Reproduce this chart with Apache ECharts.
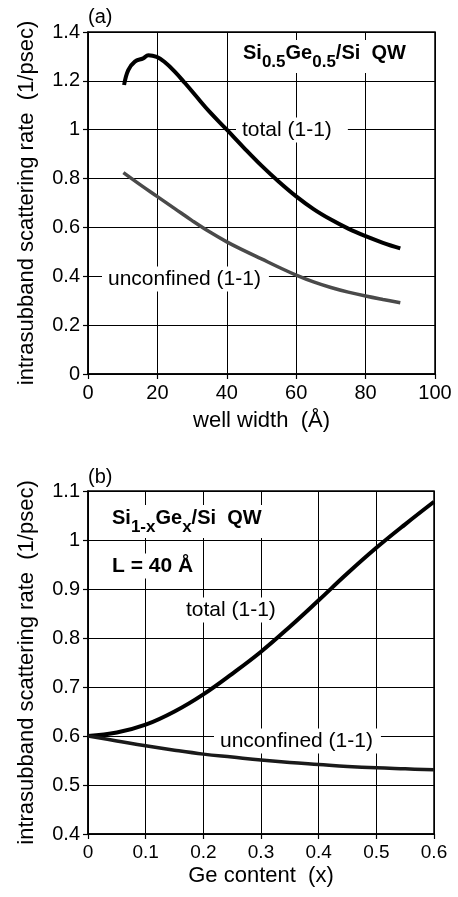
<!DOCTYPE html>
<html>
<head>
<meta charset="utf-8">
<script src="https://cdn.jsdelivr.net/npm/echarts@6/dist/echarts.min.js"></script>
<style>
html,body{margin:0;padding:0;background:#fff;}
#chart{width:458px;height:897px;}
</style>
</head>
<body>
<div id="chart"></div>
<script>
// ---- Panel (a): rate vs well width (Å), Si0.5Ge0.5/Si QW ----
var totalA_x = [10.4, 11.6, 13.5, 15.9, 17.4, 19.8, 22, 25, 28, 31, 35, 40, 45, 50, 55, 60, 65, 70, 75, 80, 85, 90];
var totalA_y = [1.183, 1.244, 1.279, 1.292, 1.305, 1.298, 1.278, 1.238, 1.19, 1.14, 1.074, 1.0, 0.925, 0.853, 0.787, 0.727, 0.675, 0.632, 0.595, 0.564, 0.537, 0.514];
var unconfA_x = [10.2, 15, 20, 25, 30, 35, 40, 45, 50, 55, 60, 65, 70, 75, 80, 85, 90];
var unconfA_y = [0.824, 0.775, 0.726, 0.677, 0.628, 0.582, 0.541, 0.505, 0.471, 0.437, 0.405, 0.377, 0.354, 0.335, 0.319, 0.305, 0.292];

// ---- Panel (b): rate vs Ge content (x), L = 40 Å ----
var geX       = [0, 0.05, 0.1, 0.15, 0.2, 0.25, 0.3, 0.35, 0.4, 0.45, 0.5, 0.55, 0.6];
var totalB_y  = [0.600, 0.607, 0.623, 0.650, 0.685, 0.727, 0.772, 0.823, 0.877, 0.932, 0.984, 1.032, 1.078];
var unconfB_y = [0.600, 0.590, 0.580, 0.571, 0.563, 0.557, 0.551, 0.546, 0.542, 0.538, 0.535, 0.533, 0.531];

// axis ranges [min, max, interval]
var xRangeA = [0, 100, 20];
var yRangeA = [0, 1.4, 0.2];
var xRangeB = [0, 0.6, 0.1];
var yRangeB = [0.4, 1.1, 0.1];

var yName = 'intrasubband scattering rate  (1/psec)';
var xNameA = 'well width  (Å)';
var xNameB = 'Ge content  (x)';

function pairs(xs, ys){ return xs.map(function(x,i){ return [x, ys[i]]; }); }

var FF = "'Liberation Sans', Arial, Helvetica, sans-serif";

function xAxis(idx, r, name, gap, fs){
  return {
    type:'value', gridIndex: idx, min:r[0], max:r[1], interval:r[2],
    name: name, nameLocation:'middle', nameGap: gap,
    nameTextStyle:{fontFamily:FF, fontSize:22, color:'#000'},
    axisLine:{show:true, lineStyle:{color:'#000', width:1.5}},
    axisTick:{show:true, inside:false, length:5, lineStyle:{color:'#000', width:1.2}},
    axisLabel:{fontFamily:FF, fontSize:fs, color:'#000', margin:9},
    splitLine:{show:true, lineStyle:{color:'#000', width:1}}
  };
}
function yAxis(idx, r){
  return {
    type:'value', gridIndex: idx, min:r[0], max:r[1], interval:r[2],
    name: yName, nameLocation:'middle', nameGap: 50, nameRotate: 90,
    nameTextStyle:{fontFamily:FF, fontSize:22, color:'#000'},
    axisLine:{show:true, lineStyle:{color:'#000', width:1.5}},
    axisTick:{show:true, inside:false, length:5, lineStyle:{color:'#000', width:1.2}},
    axisLabel:{fontFamily:FF, fontSize:20, color:'#000', margin:8},
    splitLine:{show:true, lineStyle:{color:'#000', width:1}}
  };
}

function label(text, x, y, extra){
  var st = {
    text: text,
    font: '21px ' + FF, fill:'#000',
    align:'left', verticalAlign:'middle',
    textAlign:'left', textVerticalAlign:'middle',
    backgroundColor:'#fff', padding:[2,6,2,6]
  };
  if (extra) for (var k in extra) st[k] = extra[k];
  return {type:'text', x:x, y:y, z:1, style: st};
}

// formula text with subscripts, built from measured pieces
var measureCtx = document.createElement('canvas').getContext('2d');
function formula(parts, x, y){
  var mainFont = 'bold 20px ' + FF, subFont = 'bold 17px ' + FF;
  var els = [], cx = x;
  parts.forEach(function(p){
    var f = p[1] ? subFont : mainFont;
    measureCtx.font = f;
    var w = measureCtx.measureText(p[0]).width;
    els.push({type:'text', x:cx, y: y + (p[1] ? 9 : 0), z:2,
      style:{text:p[0], font:f, fill:'#000', align:'left', verticalAlign:'middle', textAlign:'left', textVerticalAlign:'middle'}});
    cx += w;
  });
  els.unshift({type:'rect', z:1, shape:{x:x-6, y:y-13, width:cx-x+12, height:33}, style:{fill:'#fff'}});
  return els;
}

var graphics = [
  label('(a)', 88, 17, {backgroundColor:'transparent', padding:0, font:'20px ' + FF}),
  label('(b)', 88, 477, {backgroundColor:'transparent', padding:0, font:'20px ' + FF}),
  label('total (1-1)', 236, 130, {padding:[2,16,2,6]}),
  label('unconfined (1-1)', 102, 279, {padding:[2,8,2,6]}),
  label('L = 40 Å', 106, 566, {font:'bold 21px ' + FF, padding:[2,6,2,6]}),
  label('total (1-1)', 180, 610, {padding:[2,6,2,6]}),
  label('unconfined (1-1)', 214, 741, {padding:[2,8,2,6]})
].concat(
  formula([['Si',0],['0.5',1],['Ge',0],['0.5',1],['/Si  QW',0]], 243, 53),
  formula([['Si',0],['1-x',1],['Ge',0],['x',1],['/Si  QW',0]], 112, 518)
);

var chart = echarts.init(document.getElementById('chart'), null, {renderer:'canvas'});
chart.setOption({
  animation:false,
  backgroundColor:'#fff',
  grid:[
    {left:88, top:32, width:347, height:342, show:true, borderColor:'#000', borderWidth:1.5, backgroundColor:'transparent'},
    {left:88, top:491, width:346, height:343, show:true, borderColor:'#000', borderWidth:1.5, backgroundColor:'transparent'}
  ],
  xAxis:[ xAxis(0, xRangeA, xNameA, 36, 20), xAxis(1, xRangeB, xNameB, 31, 19) ],
  yAxis:[ yAxis(0, yRangeA), yAxis(1, yRangeB) ],
  series:[
    {type:'line', xAxisIndex:0, yAxisIndex:0, data:pairs(totalA_x, totalA_y), smooth:0.4, showSymbol:false,
     lineStyle:{color:'#000', width:4}, z:3},
    {type:'line', xAxisIndex:0, yAxisIndex:0, data:pairs(unconfA_x, unconfA_y), smooth:0.4, showSymbol:false,
     lineStyle:{color:'#4a4a4a', width:3.5}, z:3},
    {type:'line', xAxisIndex:1, yAxisIndex:1, data:pairs(geX, totalB_y), smooth:0.4, showSymbol:false,
     lineStyle:{color:'#000', width:4}, z:3},
    {type:'line', xAxisIndex:1, yAxisIndex:1, data:pairs(geX, unconfB_y), smooth:0.4, showSymbol:false,
     lineStyle:{color:'#1a1a1a', width:3.5}, z:3}
  ],
  graphic: graphics
});
</script>
</body>
</html>
